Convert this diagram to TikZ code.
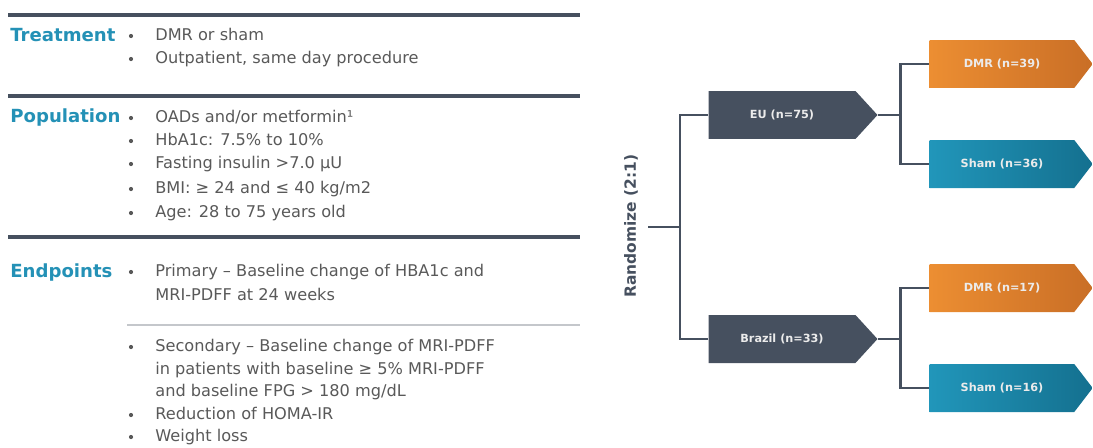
\documentclass[tikz,border=0pt]{standalone}
\usepackage{fontspec}
\setmainfont{DejaVu Sans}
\usetikzlibrary{shapes.symbols,positioning}

\definecolor{slate}{HTML}{46505F}
\definecolor{headblue}{HTML}{2491B6}
\definecolor{txtgray}{HTML}{595959}
\definecolor{rulegray}{HTML}{C4C7CB}
\definecolor{dmrorange}{HTML}{EC8E32}
\definecolor{dmrdark}{HTML}{C96E26}
\definecolor{shamteal}{HTML}{2196BA}
\definecolor{shamdark}{HTML}{14708F}

\tikzset{
  head/.style={anchor=mid west, inner sep=0pt, text=headblue,
    font=\fontsize{10.3}{12}\selectfont\bfseries},
  item/.style={anchor=mid west, inner sep=0pt, text=txtgray,
    font=\fontsize{9.2}{11}\selectfont},
  bigrule/.style={slate, line width=2pt},
  thinrule/.style={rulegray, line width=0.8pt},
  link/.style={slate, line width=1.7pt},
  armbox/.style={signal, signal to=east, signal pointer angle=95,
    minimum height=0.96cm, inner sep=0pt, text=white!92!black,
    font=\fontsize{6.4}{7}\selectfont\bfseries},
  euarm/.style={armbox, fill=slate, minimum width=3.38cm},
  dmrarm/.style={armbox, left color=dmrorange, right color=dmrdark,
    minimum width=3.26cm, signal pointer angle=105},
  shamarm/.style={armbox, left color=shamteal, right color=shamdark,
    minimum width=3.26cm, signal pointer angle=105}
}

\begin{document}
\begin{tikzpicture}[x=0.02cm, y=-0.02cm]
    \useasboundingbox (0,0) rectangle (1093,447);

    % First the rules on the left
    \foreach \y in {15, 96, 237}
      \draw[bigrule] (8,\y) -- (580,\y);
    \draw[thinrule] (127,325) -- (580,325);

    % Headings
    \node[head] (treat) at (10,37) {Treatment};
    \node[head] (popu) at (10,118) {Population};
    \node[head] (endp) at (10,273) {Endpoints};

    % Bullet points
    \foreach \y/\t in {36/DMR or sham, 59/{Outpatient, same day procedure},
        118/{OADs and/or metformin¹}, 141/HbA1c: 7.5\% to 10\%,
        164/Fasting insulin >7.0 µU, 189/{BMI: ≥ 24 and ≤ 40 kg/m2},
        213/Age: 28 to 75 years old,
        272/Primary – Baseline change of HBA1c and,
        347/Secondary – Baseline change of MRI-PDFF,
        415/Reduction of HOMA-IR, 437/Weight loss}
    {
      \fill[txtgray] (131,\y) circle (2.1);
      \node[item] (it\y) at (155,\y) {\t};
    }

    % Continued lines, no bullet
    \foreach \y/\t in {296/MRI-PDFF at 24 weeks,
        370/in patients with baseline ≥ 5\% MRI-PDFF,
        392/{and baseline FPG > 180 mg/dL}}
      \node[item] (it\y) at (155,\y) {\t};

    % Randomization label and the first split
    \node[rotate=90, text=slate, font=\fontsize{8.8}{10}\selectfont\bfseries]
      (rand) at (631,226) {Randomize (2:1)};
    \coordinate (stub) at (648,227);
    \coordinate (split) at (680,227);

    % Country arms
    \node[euarm] (eu) at (782,115) {EU (n=75)};
    \node[euarm] (brazil) at (782,339) {Brazil (n=33)};

    % Treatment arms
    \node[dmrarm] (dmra) at (1002,64) {DMR (n=39)};
    \node[shamarm] (shama) at (1002,164) {Sham (n=36)};
    \node[dmrarm] (dmrb) at (1002,288) {DMR (n=17)};
    \node[shamarm] (shamb) at (1002,388) {Sham (n=16)};

    % Connectors
    \draw[link] (stub) -- (split) |- (eu.west);
    \draw[link] (split) |- (brazil.west);
    \draw[link] (eu.east) -- ++(23,0) coordinate (euj) |- (dmra.west);
    \draw[link] (euj) |- (shama.west);
    \draw[link] (brazil.east) -- ++(23,0) coordinate (brj) |- (dmrb.west);
    \draw[link] (brj) |- (shamb.west);
  \end{tikzpicture}
\end{document}
